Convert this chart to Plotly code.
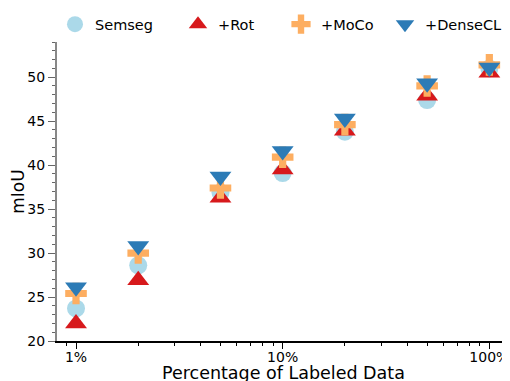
import plotly.graph_objects as go

pct = [1, 2, 5, 10, 20, 50, 100]
semseg = [23.7, 28.6, 36.9, 39.1, 43.8, 47.4, 51.0]
rot = [22.0, 26.9, 36.3, 39.5, 43.9, 47.9, 50.5]
moco = [25.4, 30.0, 37.4, 40.9, 44.6, 49.0, 51.4]
densecl = [26.1, 30.8, 38.7, 41.6, 45.3, 49.3, 51.1]
x_title = "Percentage of Labeled Data"

series = [
    ("Semseg", semseg, "circle", "#abd9e9", 18),
    ("+Rot", rot, "triangle-up", "#d7191c", 19),
    ("+MoCo", moco, "cross", "#fdae61", 18),
    ("+DenseCL", densecl, "triangle-down", "#2c7bb6", 19),
]
legend_marker_px = [75, 198, 301, 405]

# page body has an 8px default margin; compensate so the plot lands at the same pixels
OFF = 8
W, H = 510 - OFF, 381 - OFF
ML, MR, MT, MB = 57 - OFF, 0, 38 - OFF, 40
PW, PH = W - ML - MR, H - MT - MB

fig = go.Figure()
legend_ids = ["legend", "legend2", "legend3", "legend4"]
for (name, vals, sym, col, sz), lid in zip(series, legend_ids):
    fig.add_trace(go.Scatter(
        x=pct, y=vals, mode="markers", name=name, legend=lid,
        marker=dict(symbol=sym, color=col, size=sz, line=dict(width=0)),
    ))

font = "DejaVu Sans, sans-serif"
layout_legends = {}
for lid, mx in zip(legend_ids, legend_marker_px):
    layout_legends[lid] = dict(
        x=(mx - OFF - ML - 20) / PW, y=1 + 18 / PH, xanchor="left", yanchor="middle",
        font=dict(size=14.5, family=font), bgcolor="rgba(0,0,0,0)",
        itemwidth=30,
    )

fig.update_layout(
    width=W, height=H,
    margin=dict(l=ML, r=MR, t=MT, b=MB),
    paper_bgcolor="white", plot_bgcolor="white",
    font=dict(family=font, size=13, color="black"),
    showlegend=True,
    **layout_legends,
    xaxis=dict(
        type="log", range=[-0.092, 2.1], automargin=False,
        tickvals=[1, 10, 100], ticktext=["1%", "10%", "100%"],
        ticks="outside", ticklen=6, tickcolor="black",
        showline=True, linecolor="black", linewidth=1.5,
        showgrid=False, zeroline=False,
        ticklabelstandoff=-4,
        minor=dict(tickvals=[0.9, 2, 3, 4, 5, 6, 7, 8, 9, 20, 30, 40, 50, 60, 70, 80, 90],
                   ticks="outside", ticklen=3.5, tickcolor="black", showgrid=False),
        tickfont=dict(size=14),
    ),
    yaxis=dict(
        range=[20, 54], tickvals=[20, 25, 30, 35, 40, 45, 50], automargin=False,
        ticks="outside", ticklen=7, tickcolor="#666",
        showline=True, linecolor="#888", linewidth=2,
        showgrid=False, zeroline=False,
        minor=dict(dtick=1, ticks="outside", ticklen=3.5, tickcolor="#666", showgrid=False),
        tickfont=dict(size=14),
        title=dict(text="mIoU", font=dict(size=17), standoff=0),
    ),
    annotations=[dict(
        text=x_title, xref="paper", yref="paper", x=0.5, y=-32 / PH,
        xanchor="center", yanchor="middle", showarrow=False,
        font=dict(size=17.5, family=font, color="black"),
    )],
)
fig.write_html("out.html")
